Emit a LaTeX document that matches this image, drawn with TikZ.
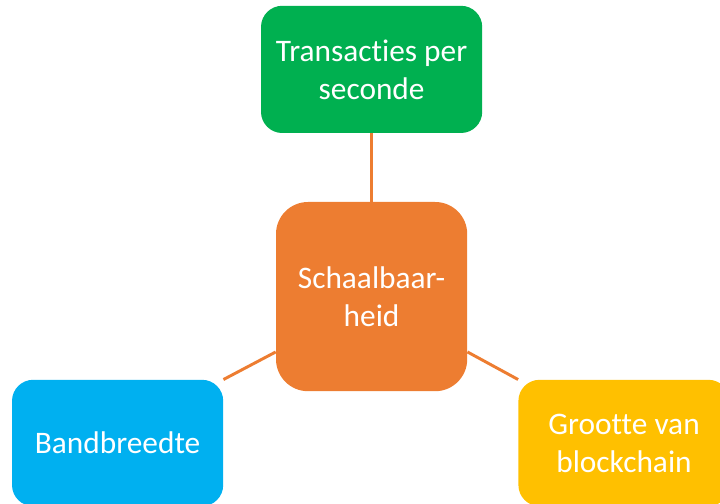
\documentclass[tikz,border=0pt]{standalone}
\usepackage{fontspec}
\setmainfont{Carlito}[Ligatures={NoCommon}]
\usepackage{tikz}
\usetikzlibrary{positioning}
\definecolor{scaleOrange}{HTML}{ED7D31}
\definecolor{tpsGreen}{HTML}{00B050}
\definecolor{bandBlue}{HTML}{00B0F0}
\definecolor{chainYellow}{HTML}{FFC000}

\begin{document}
\begin{tikzpicture}[
  every node/.style={font=\fontsize{22.3}{27}\selectfont},
  factor/.style={
    rectangle, rounded corners=0.53cm,
    minimum width=5.28cm, minimum height=3.16cm,
    fill=#1, text=white, align=center, inner sep=0pt
  },
  core/.style={
    rectangle, rounded corners=0.8cm,
    minimum width=4.78cm, minimum height=4.73cm,
    fill=scaleOrange, text=white, align=center, inner sep=0pt
  },
  link/.style={draw=scaleOrange, line width=2.1pt},
]
\useasboundingbox (0,0) rectangle (18,12.575);

% === Center ===
\node[core] (schaal) at (9.29,5.16) {Schaalbaar-\\heid};

% === Factors ===
\node[factor=tpsGreen, minimum width=5.53cm, minimum height=3.18cm] (tps) at (9.29,10.84) {Transacties per\\seconde};
\node[factor=bandBlue] (band) at (2.94,1.5) {Bandbreedte};
\node[factor=chainYellow] (grootte) at (15.6,1.5) {Grootte van\\blockchain};

% === Links ===
\draw[link] (tps.south) -- (schaal.north);
\draw[link] (band.north east) -- (schaal.210);
\draw[link] (schaal.330) -- (grootte.north west);

\end{tikzpicture}
\end{document}
